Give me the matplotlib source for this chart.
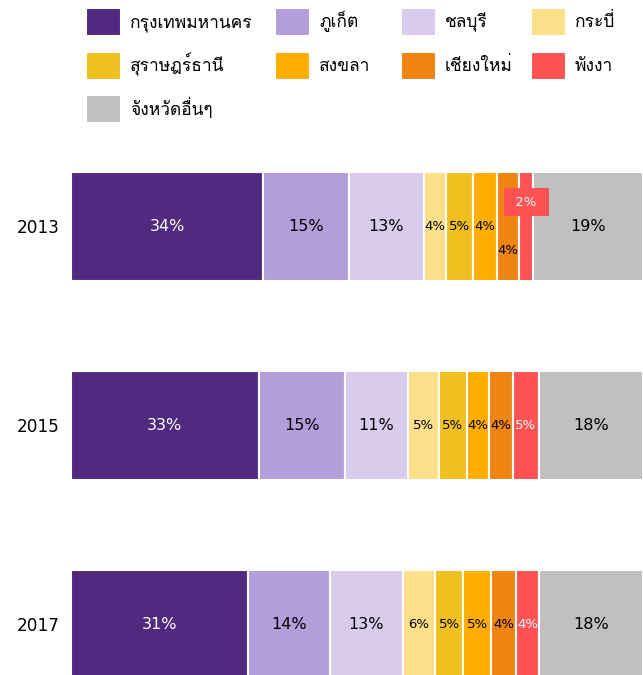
import matplotlib
matplotlib.use("Agg")
import numpy as np
import matplotlib.pyplot as plt

plt.rcParams['font.family'] = ['DejaVu Sans', 'Loma']

# data (share of tourism income, %)
years = ['2013', '2015', '2017']
provinces = ['กรุงเทพมหานคร', 'ภูเก็ต', 'ชลบุรี', 'กระบี่',
             'สุราษฎร์ธานี', 'สงขลา', 'เชียงใหม่', 'พังงา', 'จังหวัดอื่นๆ']
bangkok = [33.6, 32.8, 30.9]
phuket = [15.0, 15.1, 14.3]
chonburi = [13.1, 11.0, 12.9]
krabi = [3.8, 5.4, 5.5]
surat = [4.7, 4.9, 5.0]
songkhla = [4.2, 3.8, 4.8]
chiangmai = [4.0, 4.2, 4.4]
phangnga = [2.4, 4.6, 4.0]
others = [19.2, 18.2, 18.2]

colors = ['#4f2a7e', '#b39ddb', '#d9cbeb', '#fdde8a', '#f0c020',
          '#ffad00', '#ee8513', '#ff5252', '#c0c0c0']
text_colors = ['white', 'black', 'black', 'black', 'black',
               'black', 'black', 'white', 'black']
big = [True, True, True, False, False, False, False, False, True]

series = [bangkok, phuket, chonburi, krabi, surat, songkhla, chiangmai, phangnga, others]

fig = plt.figure(figsize=(6.43, 6.75), dpi=100)
ax = fig.add_axes([71 / 643, 0, 572 / 643, 548 / 675])

y = np.arange(len(years))
left = np.zeros(len(years))
handles = []
for i, vals in enumerate(series):
    vals = np.array(vals)
    bars = ax.barh(y, vals, left=left, height=0.55, color=colors[i],
                   edgecolor='white', linewidth=1.5, label=provinces[i])
    handles.append(bars)
    for j, v in enumerate(vals):
        cx = left[j] + v / 2
        cy = y[j]
        txt = f'{round(v):.0f}%'
        fs = 11.5 if big[i] else 9.5
        if j == 0 and i == 7:
            # small slice: label moved into a box above
            ax.text(cx, cy - 0.122, ' ' + txt + ' ', ha='center', va='center', color='white',
                    fontsize=9.5, bbox=dict(boxstyle='square,pad=0.58', fc=colors[i], ec='none'))
        elif j == 0 and i == 6:
            ax.text(cx, cy + 0.123, txt, ha='center', va='center',
                    color=text_colors[i], fontsize=fs)
        else:
            ax.text(cx, cy, txt, ha='center', va='center',
                    color=text_colors[i], fontsize=fs)
    left += vals

ax.set_xlim(0, 100)
ax.set_ylim(2.254, -0.5)
ax.set_yticks(y)
ax.set_yticklabels(years, fontsize=12.2)
ax.tick_params(axis='y', length=0, pad=8)
ax.set_xticks([])
for s in ax.spines.values():
    s.set_visible(False)

# legend laid out row by row, one legend per column
legend_cols = [[0, 4, 8], [1, 5], [2, 6], [3, 7]]
legend_x = [86, 275, 401, 531]
for col, x0 in zip(legend_cols, legend_x):
    fig.legend(handles=[handles[k] for k in col], labels=[provinces[k] for k in col],
               loc='upper left', bbox_to_anchor=(x0 / 643, 1 - 8 / 675),
               frameon=False, fontsize=12.5, borderpad=0, borderaxespad=0,
               handlelength=2.02, handleheight=2.1, handletextpad=0.52,
               labelspacing=0.9)

fig.savefig('out.png', dpi=100)
